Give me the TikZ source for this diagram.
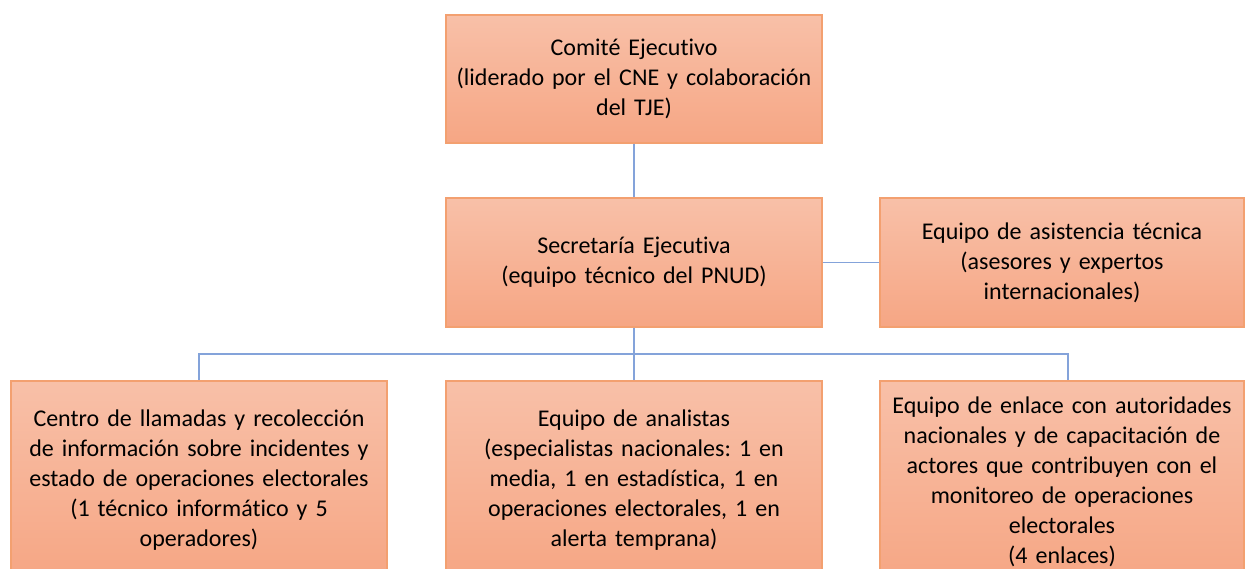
\documentclass[tikz,border=0pt]{standalone}
\usepackage{fontspec}
\setmainfont[Ligatures={NoCommon}]{Carlito}
\usetikzlibrary{positioning, calc}
\definecolor{colorBoxTop}{RGB}{248, 192, 168}
\definecolor{colorBoxBot}{RGB}{246, 166, 132}
\definecolor{colorBoxLine}{RGB}{243, 160, 112}
\definecolor{colorLink}{RGB}{132, 163, 218}
\tikzstyle{box} = [rectangle, minimum width=376pt, minimum height=128pt, text width=360pt, inner sep=8pt, align=center, draw=colorBoxLine, line width=1.2pt, top color=colorBoxTop, bottom color=colorBoxBot, font=\fontsize{24}{30}\selectfont]
\tikzstyle{link} = [draw=colorLink, line width=1.1pt]
\frenchspacing

\begin{document}
\begin{tikzpicture}[x=1pt, y=1pt]

		% page size of the reference
		\useasboundingbox (0,0) rectangle (1245,568);
		\clip (0,0) rectangle (1245,568);

		\node (cComite)[box] at (634,489) {Comité Ejecutivo \\ (liderado por el CNE y colaboración \\ del TJE)};
		\node (cSecretaria)[box, minimum height=129pt] at (634,305.5) {Secretaría Ejecutiva \\ (equipo técnico del PNUD)};
		\node (eAsistencia)[box, minimum width=364pt, minimum height=129pt, text width=348pt] at (1062,305.5) {Equipo de asistencia técnica \\ (asesores y expertos \\ internacionales)};

		% bottom row, cut by the page edge
		\node (cLlamadas)[box, minimum height=198pt] at (199,88) {Centro de llamadas y recolección \\ de información sobre incidentes y \\ estado de operaciones electorales \\ (1 técnico informático y 5 \\ operadores)};
		\node (eAnalistas)[box, minimum height=198pt] at (634,88) {Equipo de analistas \\ (especialistas nacionales: 1 en \\ media, 1 en estadística, 1 en \\ operaciones electorales, 1 en \\ alerta temprana)};
		\node (eEnlace)[box, minimum width=364pt, minimum height=202pt, text width=348pt] at (1062,86) {Equipo de enlace con autoridades \\ nacionales y de capacitación de \\ actores que contribuyen con el \\ monitoreo de operaciones \\ electorales \\ (4 enlaces)};

		\coordinate (bus) at (634,214);

		% lines
		\draw[link](cComite) -- (cSecretaria);
		\draw[link](cSecretaria) -- (eAsistencia);
		\draw[link](cSecretaria) -- (bus);
		\draw[link](bus) -| (cLlamadas.north);
		\draw[link](bus) -- (eAnalistas);
		\draw[link](bus) -| ([xshift=6pt]eEnlace.north);

	\end{tikzpicture}
\end{document}
